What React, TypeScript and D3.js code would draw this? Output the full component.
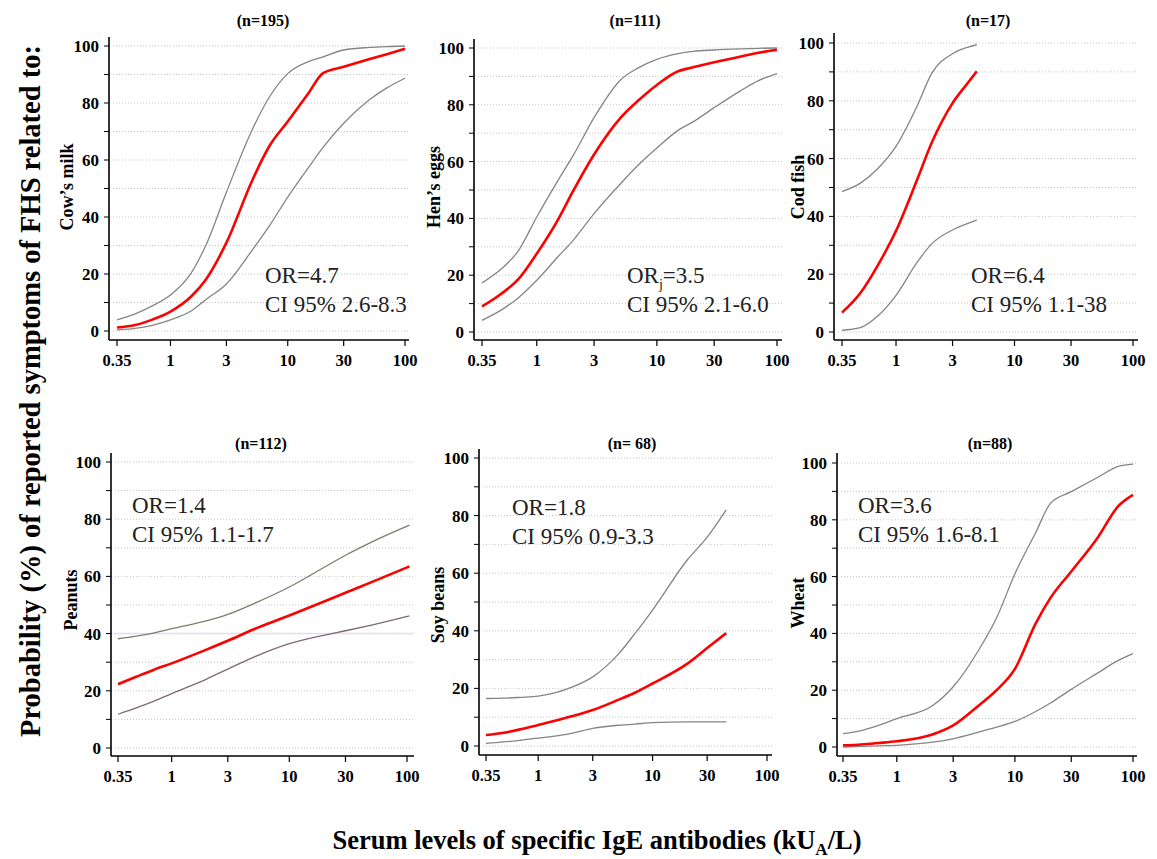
import * as d3 from "d3"
import React from "react"

const FONT = "Liberation Serif, Times New Roman, Times, serif"

// shared axis ticks
const xTicks = [0.35, 1, 3, 10, 30, 100]
const xTickLabels = ["0.35", "1", "3", "10", "30", "100"]
const yLabelTicks = [0, 20, 40, 60, 80, 100]
const yGridTicks = [0, 10, 20, 30, 40, 50, 60, 70, 80, 90, 100]

// Cow's milk (n=195)
const cowX = [0.35, 0.5, 0.7, 1, 1.5, 2, 3, 5, 7, 10, 15, 20, 30, 50, 70, 100]
const cowMid = [1.2, 2.1, 4, 6.8, 12.1, 18, 31, 53, 65, 73.5, 83.4, 90.5, 92.7, 95.4, 97.1, 99]
const cowHigh = [3.9, 6, 8.8, 12.6, 20.3, 30, 48.7, 70.8, 82.2, 90.3, 94.5, 96.2, 98.6, 99.5, 99.8, 100]
const cowLow = [0.4, 0.9, 2, 3.9, 7, 11, 16.5, 28.5, 37, 47, 57.3, 64.4, 72.9, 81.2, 85.3, 88.7]

// Hen's eggs (n=111)
const eggX = [0.35, 0.5, 0.7, 1, 1.5, 2, 3, 5, 7, 10, 15, 20, 30, 50, 70, 100]
const eggMid = [9, 13.3, 18.5, 27.6, 39.5, 49.5, 62.5, 75.5, 81.5, 87, 91.8, 93.2, 95, 97, 98.3, 99.4]
const eggHigh = [17.3, 22, 28.5, 40.5, 53.3, 62, 75.5, 88.8, 93, 96, 98, 98.8, 99.3, 99.7, 99.9, 100]
const eggLow = [4.1, 7.6, 12, 18.2, 26.5, 32.2, 41.7, 52.3, 58.8, 64.8, 71, 74, 79, 85, 88.5, 91]

// Cod fish (n=17)
const codX = [0.35, 0.5, 0.7, 1, 1.5, 2, 3, 4, 4.8]
const codMid = [6.7, 13.5, 23, 35, 52.5, 65.5, 79.2, 86, 90.2]
const codHigh = [48.6, 51.5, 56.5, 64.2, 78, 89.5, 96.3, 98.5, 99.4]
const codLow = [0.6, 1.5, 5.5, 12.7, 24, 30.5, 35.3, 37.5, 38.7]

// Peanuts (n=112)
const peaX = [0.35, 0.5, 0.7, 1, 2, 3, 5, 10, 20, 30, 50, 105]
const peaMid = [22.3, 24.9, 27.3, 29.6, 34.5, 37.5, 41.5, 46.3, 51.3, 54.3, 58, 63.5]
const peaHigh = [38.2, 39.1, 40.2, 41.7, 44.5, 46.7, 50.5, 56.3, 63.3, 67.4, 72, 77.9]
const peaLow = [11.8, 14, 16.3, 19, 24.2, 27.6, 31.8, 36.5, 39.5, 41, 43, 46.2]

// Soy beans (n=68)
const soyX = [0.35, 0.5, 0.7, 1, 2, 3, 5, 7, 10, 20, 30, 44]
const soyMid = [3.8, 4.6, 5.8, 7.3, 10.4, 12.5, 16, 18.5, 21.7, 28.5, 34, 39.2]
const soyHigh = [16.5, 16.6, 16.9, 17.3, 20.5, 24, 31.8, 39, 47.2, 64.5, 72.5, 82]
const soyLow = [0.9, 1.4, 2, 2.7, 4.5, 6.1, 7.2, 7.6, 8.1, 8.4, 8.4, 8.4]

// Wheat (n=88)
const wheX = [0.35, 0.5, 0.7, 1, 2, 3, 5, 7, 10, 15, 20, 30, 50, 75, 100]
const wheMid = [0.6, 0.9, 1.4, 2, 4.4, 7.6, 14.8, 20, 27.5, 43.5, 52.5, 61.8, 73.6, 84.8, 88.8]
const wheHigh = [4.7, 5.8, 7.6, 10, 14.5, 21.2, 34.5, 45.5, 61, 75.5, 85.8, 89.9, 94.9, 98.8, 99.6]
const wheLow = [0, 0.2, 0.4, 0.6, 1.7, 2.9, 5.3, 7, 9, 12.5, 15.5, 20.3, 26, 30.5, 32.9]

const panels = [
  { title: "(n=195)", label: "Cow\u2019s milk", or: "OR", sub: "", orVal: "=4.7", ci: "CI 95% 2.6-8.3",
    xs: cowX, mid: cowMid, hi: cowHigh, lo: cowLow,
    ax: 109, x0: 117, x1: 405, y0: 331, y100: 46, axY: 340, axTop: 37, axEnd: 409,
    tx: 263, ty: 26, lx: 73, ly: 187, ox: 265, oy: 283 },
  { title: "(n=111)", label: "Hen\u2019s eggs", or: "OR", sub: "j", orVal: "=3.5", ci: "CI 95% 2.1-6.0",
    xs: eggX, mid: eggMid, hi: eggHigh, lo: eggLow,
    ax: 474, x0: 482, x1: 777, y0: 332, y100: 48, axY: 340, axTop: 39, axEnd: 782,
    tx: 635, ty: 26, lx: 440, ly: 187, ox: 627, oy: 283 },
  { title: "(n=17)", label: "Cod fish", or: "OR", sub: "", orVal: "=6.4", ci: "CI 95% 1.1-38",
    xs: codX, mid: codMid, hi: codHigh, lo: codLow,
    ax: 834, x0: 842, x1: 1133, y0: 332, y100: 43, axY: 340, axTop: 33, axEnd: 1138,
    tx: 988, ty: 26, lx: 804, ly: 187, ox: 971, oy: 283 },
  { title: "(n=112)", label: "Peanuts", or: "OR", sub: "", orVal: "=1.4", ci: "CI 95% 1.1-1.7",
    xs: peaX, mid: peaMid, hi: peaHigh, lo: peaLow, hiColor: "#7a7e6c", loColor: "#7c6a72", band: 40,
    ax: 111, x0: 118, x1: 407, y0: 748, y100: 462, axY: 756, axTop: 453, axEnd: 414,
    tx: 261, ty: 449, lx: 77, ly: 600, ox: 132, oy: 513 },
  { title: "(n= 68)", label: "Soy beans", or: "OR", sub: "", orVal: "=1.8", ci: "CI 95% 0.9-3.3",
    xs: soyX, mid: soyMid, hi: soyHigh, lo: soyLow,
    ax: 479, x0: 486, x1: 767, y0: 746, y100: 458, axY: 755, axTop: 449, axEnd: 772,
    tx: 632, ty: 449, lx: 444, ly: 605, ox: 512, oy: 515 },
  { title: "(n=88)", label: "Wheat", or: "OR", sub: "", orVal: "=3.6", ci: "CI 95% 1.6-8.1",
    xs: wheX, mid: wheMid, hi: wheHigh, lo: wheLow,
    ax: 837, x0: 843, x1: 1133, y0: 747, y100: 463, axY: 756, axTop: 453, axEnd: 1137,
    tx: 990, ty: 449, lx: 804, ly: 603, ox: 858, oy: 513 },
]

const Panel = ({ p }: { p: any }) => {
  const x = d3.scaleLog().domain([0.35, 100]).range([p.x0, p.x1])
  const y = d3.scaleLinear().domain([0, 100]).range([p.y0, p.y100])
  const line = d3.line<number[]>()
    .x(d => x(d[0]))
    .y(d => y(d[1]))
    .curve(d3.curveMonotoneX)
  const pts = (ys: number[]) => p.xs.map((v: number, i: number) => [v, ys[i]])

  return (
    <g>
      {/* gridlines */}
      {yGridTicks.map(t => (
        <line key={"g" + t} x1={p.ax + 4} x2={p.axEnd} y1={y(t)} y2={y(t)}
          stroke="#c4c4cc" strokeWidth={1} strokeDasharray="1,2" />
      ))}
      {p.band != null && (
        <line x1={p.ax + 2} x2={p.axEnd} y1={y(p.band)} y2={y(p.band)} stroke="#dde0f2" strokeWidth={1.5} />
      )}
      {/* y axis */}
      <line x1={p.ax} x2={p.ax} y1={p.axTop} y2={p.axY} stroke="#000" strokeWidth={1.6} />
      {yGridTicks.map(t => (
        <line key={"t" + t} x1={p.ax - 5} x2={p.ax} y1={y(t)} y2={y(t)} stroke="#000" strokeWidth={1} />
      ))}
      {yLabelTicks.map(t => (
        <text key={"l" + t} x={p.ax - 10} y={y(t)} dy="0.35em" textAnchor="end"
          fontFamily={FONT} fontWeight="bold" fontSize={17}>{t}</text>
      ))}
      {/* x axis */}
      <line x1={p.ax} x2={p.axEnd} y1={p.axY} y2={p.axY} stroke="#000" strokeWidth={1.6} />
      {xTicks.map((t, i) => (
        <g key={"x" + t}>
          <line x1={x(t)} x2={x(t)} y1={p.axY} y2={p.axY + 6} stroke="#000" strokeWidth={1.2} />
          <text x={x(t)} y={p.axY + 26} textAnchor="middle" fontFamily={FONT}
            fontWeight="bold" fontSize={16.5}>{xTickLabels[i]}</text>
        </g>
      ))}
      {/* curves */}
      <path d={line(pts(p.hi)) || ""} fill="none" stroke={p.hiColor || "#858585"} strokeWidth={1.3} />
      <path d={line(pts(p.lo)) || ""} fill="none" stroke={p.loColor || "#858585"} strokeWidth={1.3} />
      <path d={line(pts(p.mid)) || ""} fill="none" stroke="#ff0000" strokeWidth={2.6} />
      {/* labels */}
      <text x={p.tx} y={p.ty} textAnchor="middle" fontFamily={FONT} fontWeight="bold" fontSize={16}>{p.title}</text>
      <text transform={`translate(${p.lx},${p.ly}) rotate(-90)`} textAnchor="middle" fontFamily={FONT}
        fontWeight="bold" fontSize={18}>{p.label}</text>
      <text x={p.ox} y={p.oy} fontFamily={FONT} fontSize={23} fill="#222">
        {p.or}
        {p.sub && <tspan fontSize={14} dy={6}>{p.sub}</tspan>}
        <tspan dy={p.sub ? -6 : 0}>{p.orVal}</tspan>
      </text>
      <text x={p.ox} y={p.oy + 29} fontFamily={FONT} fontSize={23} fill="#222">{p.ci}</text>
    </g>
  )
}

const App = () => {
  return (
    <svg width={1157} height={859} style={{ position: "absolute", left: 0, top: 0, background: "#fff" }}>
      <rect width={1157} height={859} fill="#fff" />
      {panels.map((p, i) => <Panel key={i} p={p} />)}
      <text transform="translate(40,391) rotate(-90)" textAnchor="middle" fontFamily={FONT}
        fontWeight="bold" fontSize={28.5}>Probability (%) of reported symptoms of FHS related to:</text>
      <text x={597} y={849} textAnchor="middle" fontFamily={FONT} fontWeight="bold" fontSize={26.5}>
        Serum levels of specific IgE antibodies (kU<tspan fontSize={17} dy={6}>A</tspan><tspan dy={-6}>/L)</tspan>
      </text>
    </svg>
  )
}

export default App
